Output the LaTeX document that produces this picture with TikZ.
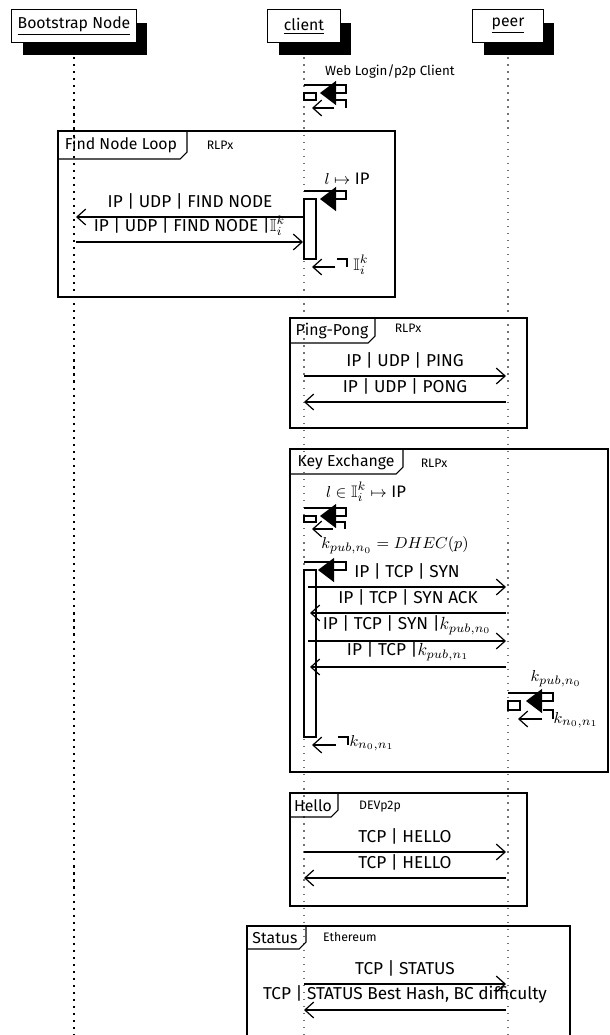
\documentclass[tikz,border=0pt]{standalone}
\usepackage{amsmath}
\usepackage{amssymb}
\usepackage{fontspec}
\setmainfont{Fira Sans}
\usepackage{tikz}
\usetikzlibrary{arrows.meta}
\usetikzlibrary{shadows}

\begin{document}
\begin{tikzpicture}[
		x=0.02cm, y=-0.02cm,
		inst/.style = {draw, fill=white, line width=0.8pt, minimum height=0.66cm, inner sep=2pt, font=\fontsize{9}{11}\selectfont,
			drop shadow={shadow xshift=0.22cm, shadow yshift=-0.26cm, fill=black, opacity=1}},
		life/.style = {line width=0.6pt, black!55, dash pattern=on 0.8pt off 3.2pt},
		bootlife/.style = {line width=1.2pt, dash pattern=on 1.2pt off 2.8pt},
		frm/.style = {line width=1pt},
		tab/.style = {line width=0.6pt},
		ttl/.style = {font=\fontsize{9}{11}\selectfont, inner sep=0pt},
		sub/.style = {font=\fontsize{7}{9}\selectfont, inner sep=0pt},
		lbl/.style = {font=\fontsize{9.8}{12}\selectfont, inner sep=0pt, yshift=0.32cm},
		note/.style = {font=\fontsize{9.5}{11}\selectfont, inner sep=0pt},
		msg/.style = {line width=0.7pt, -{Straight Barb[length=5pt,width=9pt]}},
		act/.style = {draw, fill=white, line width=0.7pt},
		callout/.style = {line width=0.7pt, -{Triangle[length=0.32cm,width=0.48cm]}},
		callret/.style = {line width=0.7pt, -{Straight Barb[length=5pt,width=9pt]}},
	]
	\useasboundingbox (0,0) rectangle (609,1035);
	\clip (0,0) rectangle (609,1035);

	% instances
	\node[inst, minimum width=2.5cm]  (boot)   at (74,26)  {\underline{Bootstrap Node}};
	\node[inst, minimum width=1.46cm] (client) at (304,26) {\underline{client}};
	\node[inst, minimum width=1.42cm] (peer)   at (508,26) {\underline{peer}};

	\coordinate (bootend)   at (74,1040);
	\coordinate (clientend) at (304,1040);
	\coordinate (peerend)   at (508,1040);
	\draw[bootlife] ([yshift=-0.28cm]boot.south) -- (bootend);
	\draw[life] ([yshift=-0.28cm]client.south) -- (clientend);
	\draw[life] ([yshift=-0.28cm]peer.south) -- (peerend);

	% web login
	\node[note, font=\fontsize{7.6}{10}\selectfont] (web) at (390,72) {Web Login/p2p Client};
	\coordinate (w1) at (304,85);
	\coordinate (w2) at (304,100);
	\draw[act] (w1) ++(0,8) rectangle (316,100);
	\draw[callout] (w1) -- ++(42,0) -- ++(0,8) -- ++(-26,0);
	\draw[line width=0.7pt] (w2) ++(32,0) -- ++(10,0) -- ++(0,8);
	\draw[callret] (w2) ++(30,8) -- ++(-22,0);

	% find node loop
	\draw[frm] (58,131) rectangle (395,297);
	\draw[tab] (58,159) -- (180,159) -- (187,152) -- (187,131);
	\node[ttl] (fnl) at (121,145) {Find Node Loop};
	\node[sub] (fnlp) at (220,145) {RLPx};

	\node[note] (lip) at (347,179) {$l \mapsto$ IP};
	\coordinate (f1) at (304,191);
	\coordinate (f2) at (304,259);
	\draw[act] (304,199) rectangle (316,259);
	\draw[callout] (f1) -- ++(42,0) -- ++(0,8) -- ++(-26,0);
	\draw[line width=0.7pt] (f2) ++(33,0) -- ++(10,0) -- ++(0,8);
	\draw[callret] (f2) ++(31,8) -- ++(-23,0);
	\node[note] (ik) at (361,265) {$\mathbb{I}_i^k$};

	\coordinate (fa1) at (304,217);
	\coordinate (fb1) at (76,217);
	\coordinate (fb2) at (76,242);
	\coordinate (fa2) at (303,242);
	\draw[msg] (fa1) -- node[lbl] {IP | UDP | FIND NODE} (fb1);
	\draw[msg] (fb2) -- node[lbl] {IP | UDP | FIND NODE |$\mathbb{I}_i^k$} (fa2);

	% ping-pong
	\draw[frm] (290,318) rectangle (527,428);
	\draw[tab] (290,343) -- (368,343) -- (375,336) -- (375,318);
	\node[ttl] (png) at (332,331) {Ping-Pong};
	\node[sub] (pngp) at (408,328) {RLPx};

	\coordinate (pa1) at (304,376);
	\coordinate (pb1) at (506,376);
	\coordinate (pb2) at (506,402);
	\coordinate (pa2) at (304,402);
	\draw[msg] (pa1) -- node[lbl] {IP | UDP | PING} (pb1);
	\draw[msg] (pb2) -- node[lbl] {IP | UDP | PONG} (pa2);

	% key exchange
	\draw[frm] (290,449) rectangle (608,772);
	\draw[tab] (290,474) -- (396,474) -- (403,467) -- (403,449);
	\node[ttl] (kex) at (346,462) {Key Exchange};
	\node[sub] (kexp) at (434,463) {RLPx};

	\node[note] (lin) at (366,492) {$l \in \mathbb{I}_i^k \mapsto$ IP};
	\coordinate (k1) at (304,508);
	\coordinate (k2) at (304,522);
	\draw[act] (304,516) rectangle (316,522);
	\draw[callout] (k1) -- ++(42,0) -- ++(0,8) -- ++(-26,0);
	\draw[line width=0.7pt] (k2) ++(31,0) -- ++(10,0) -- ++(0,7);
	\draw[callret] (k2) ++(29,7) -- ++(-21,0);

	\node[note] (dhec) at (395,545) {$k_{pub,n_0} = DHEC(p)$};
	\coordinate (k3) at (304,562);
	\coordinate (k4) at (304,737);
	\draw[act] (304,570) rectangle (316,737);
	\draw[callout] (k3) -- ++(42,0) -- ++(0,8) -- ++(-28,0);
	\draw[line width=0.7pt] (k4) ++(34,0) -- ++(10,0) -- ++(0,8);
	\draw[callret] (k4) ++(32,8) -- ++(-24,0);
	\node[note] (knn) at (372,743) {$k_{n_0,n_1}$};

	\coordinate (ka1) at (308,587);
	\coordinate (kb1) at (506,587);
	\coordinate (kb2) at (506,613);
	\coordinate (ka2) at (310,613);
	\coordinate (ka3) at (308,641);
	\coordinate (kb3) at (506,641);
	\coordinate (kb4) at (506,667);
	\coordinate (ka4) at (310,667);
	\draw[msg] (ka1) -- node[lbl] {IP | TCP | SYN} (kb1);
	\draw[msg] (kb2) -- node[lbl] {IP | TCP | SYN ACK} (ka2);
	\draw[msg] (ka3) -- node[lbl] {IP | TCP | SYN |$k_{pub,n_0}$} (kb3);
	\draw[msg] (kb4) -- node[lbl] {IP | TCP |$k_{pub,n_1}$} (ka4);

	\node[note] (kpub) at (556,679) {$k_{pub,n_0}$};
	\coordinate (q1) at (508,693);
	\coordinate (q2) at (508,710);
	\draw[act] (508,701) rectangle (520,710);
	\draw[callout] (q1) -- ++(45,0) -- ++(0,8) -- ++(-27,0);
	\draw[line width=0.7pt] (q2) ++(35,0) -- ++(10,0) -- ++(0,9);
	\draw[callret] (q2) ++(34,9) -- ++(-24,0);
	\node[note] (kpn) at (576,720) {$k_{n_0,n_1}$};

	% hello
	\draw[frm] (290,793) rectangle (527,906);
	\draw[tab] (290,817) -- (331,817) -- (338,810) -- (338,793);
	\node[ttl] (hel) at (313,806) {Hello};
	\node[sub] (help) at (380,807) {DEVp2p};

	\coordinate (ha1) at (304,852);
	\coordinate (hb1) at (506,852);
	\coordinate (hb2) at (506,878);
	\coordinate (ha2) at (304,878);
	\draw[msg] (ha1) -- node[lbl] {TCP | HELLO} (hb1);
	\draw[msg] (hb2) -- node[lbl] {TCP | HELLO} (ha2);

	% status
	\draw[frm] (247,926) rectangle (570,1045);
	\draw[tab] (247,949) -- (299,949) -- (306,942) -- (306,926);
	\node[ttl] (sta) at (275,938) {Status};
	\node[sub] (stap) at (350,937) {Ethereum};

	\coordinate (sa1) at (304,984);
	\coordinate (sb1) at (506,984);
	\coordinate (sb2) at (506,1010);
	\coordinate (sa2) at (304,1010);
	\draw[msg] (sa1) -- node[lbl] {TCP | STATUS} (sb1);
	\draw[msg] (sb2) -- node[lbl] {TCP | STATUS Best Hash, BC difficulty} (sa2);
\end{tikzpicture}
\end{document}
